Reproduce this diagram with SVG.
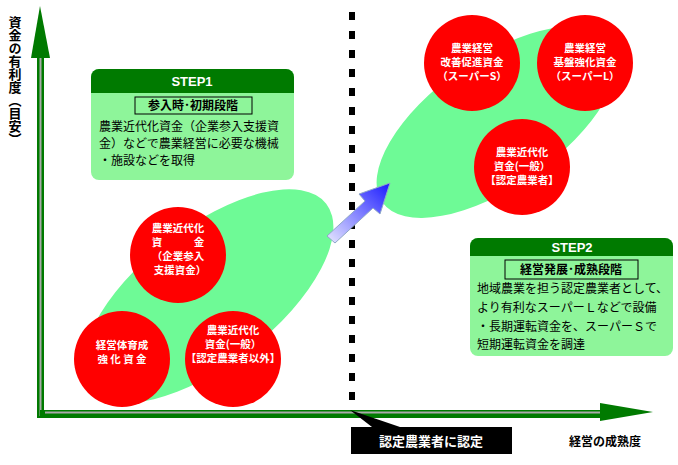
<svg xmlns="http://www.w3.org/2000/svg" width="678" height="465" viewBox="0 0 678 465">
<defs>
<linearGradient id="bg" x1="0" y1="1" x2="1" y2="0"><stop offset="0" stop-color="#e8e8ff"/><stop offset="1" stop-color="#1a1aff"/></linearGradient>
<style>
text{font-family:"Noto Sans CJK JP","Liberation Sans",sans-serif}
.c{fill:#f00}
.ct{fill:#fff;font-size:10.5px;font-weight:bold;text-anchor:middle}
.body{font-size:12px;fill:#000}
.hd{fill:#fff;font-size:13px;font-weight:bold;text-anchor:middle;font-family:"Liberation Sans",sans-serif}
.sub{font-size:12px;font-weight:bold;text-anchor:middle}
.ell{fill:#6efa96}
</style>
</defs>
<rect width="678" height="465" fill="#fff"/>
<g id="blobs">
<ellipse class="ell" cx="208" cy="296" rx="150" ry="68" transform="rotate(-38 208 296)"/>
<ellipse class="ell" cx="497" cy="122" rx="140" ry="64" transform="rotate(-35 497 122)"/>
</g>
<g id="connectors">
<rect x="37" y="56" width="7" height="362" fill="#007a00"/>
<rect x="39.5" y="58" width="2" height="358" fill="#aaa"/>
<polygon points="40,6 31,58 50,58" fill="#007a00"/>
<rect x="40" y="410" width="562" height="8" fill="#007a00"/>
<rect x="45" y="411.5" width="555" height="2" fill="#aaa"/>
<polygon points="653,412 600,403 600,421" fill="#007a00"/>
<g fill="#000">
<rect x="349" y="12" width="6" height="8"/><rect x="349" y="31" width="6" height="8"/><rect x="349" y="50" width="6" height="8"/><rect x="349" y="69" width="6" height="8"/><rect x="349" y="88" width="6" height="8"/><rect x="349" y="107" width="6" height="8"/><rect x="349" y="126" width="6" height="8"/><rect x="349" y="145" width="6" height="8"/><rect x="349" y="164" width="6" height="8"/><rect x="349" y="183" width="6" height="8"/><rect x="349" y="202" width="6" height="8"/><rect x="349" y="221" width="6" height="8"/><rect x="349" y="240" width="6" height="8"/><rect x="349" y="259" width="6" height="8"/><rect x="349" y="278" width="6" height="8"/><rect x="349" y="297" width="6" height="8"/><rect x="349" y="316" width="6" height="8"/><rect x="349" y="335" width="6" height="8"/><rect x="349" y="354" width="6" height="8"/><rect x="349" y="373" width="6" height="8"/><rect x="349" y="392" width="6" height="8"/>
</g>
<polygon points="327,236 365,201 359,194 390,183 380,214 373,208 335,243" fill="url(#bg)" stroke="#8fa8c8" stroke-width="1"/>
</g>
<g id="yaxis-label"><text x="15" y="16" font-size="13" font-weight="bold" style="writing-mode:vertical-rl;glyph-orientation-vertical:0">資金の有利度（目安）</text></g>
<g id="step1">
<rect x="91" y="69" width="203" height="111" rx="8" fill="#8ef59a"/>
<path d="M91,93 V77 a8,8 0 0 1 8,-8 H286 a8,8 0 0 1 8,8 V93 Z" fill="#007a00"/>
<text class="hd" x="192" y="86">STEP1</text>
<rect x="135" y="97" width="117" height="17" fill="none" stroke="#000" stroke-width="1"/>
<text class="sub" x="193" y="110">参入時･初期段階</text>
<text class="body" x="99" y="131">農業近代化資金（企業参入支援資</text>
<text class="body" x="99" y="148">金）などで農業経営に必要な機械</text>
<text class="body" x="99" y="165">・施設などを取得</text>
</g>
<g id="step2">
<rect x="470" y="238" width="203" height="118" rx="8" fill="#8ef59a"/>
<path d="M470,256 V246 a8,8 0 0 1 8,-8 H665 a8,8 0 0 1 8,8 V256 Z" fill="#007a00"/>
<text class="hd" x="572" y="252">STEP2</text>
<rect x="505" y="260" width="133" height="19" fill="none" stroke="#000" stroke-width="1"/>
<text class="sub" x="571" y="274">経営発展･成熟段階</text>
<text class="body" x="477" y="293">地域農業を担う認定農業者として、</text>
<text class="body" x="477" y="312">より有利なスーパーＬなどで設備</text>
<text class="body" x="477" y="331">・長期運転資金を、スーパーＳで</text>
<text class="body" x="477" y="349">短期運転資金を調達</text>
</g>
<g id="n1"><circle class="c" cx="178" cy="255" r="48"/>
<text class="ct" x="178" y="232">農業近代化</text><text class="ct" x="178" y="246">資　　　金</text><text class="ct" x="178" y="260">（企業参入</text><text class="ct" x="180" y="274">支援資金）</text></g>
<g id="n2"><circle class="c" cx="122" cy="359" r="48"/>
<text class="ct" x="122" y="349">経営体育成</text><text class="ct" x="122" y="363">強 化 資 金</text></g>
<g id="n3"><circle class="c" cx="233" cy="359" r="48"/>
<text class="ct" x="233" y="334">農業近代化</text><text class="ct" x="233" y="348">資金(一般）</text><text class="ct" x="233" y="362" font-size="9.5">【認定農業者以外】</text></g>
<g id="n4"><circle class="c" cx="472" cy="63" r="48"/>
<text class="ct" x="472" y="52">農業経営</text><text class="ct" x="472" y="66">改善促進資金</text><text class="ct" x="472" y="80">（スーパーS）</text></g>
<g id="n5"><circle class="c" cx="585" cy="63" r="48"/>
<text class="ct" x="585" y="52">農業経営</text><text class="ct" x="585" y="66">基盤強化資金</text><text class="ct" x="585" y="80">（スーパーL）</text></g>
<g id="n6"><circle class="c" cx="522" cy="167" r="48"/>
<text class="ct" x="522" y="156">農業近代化</text><text class="ct" x="522" y="170">資金(一般）</text><text class="ct" x="522" y="184" font-size="9.5">【認定農業者】</text></g>
<g id="cert">
<polygon points="350,410 372,427 400,427" fill="#000"/>
<rect x="351" y="427" width="161" height="27" fill="#000"/>
<text x="431" y="446" fill="#fff" font-size="13" font-weight="bold" text-anchor="middle">認定農業者に認定</text>
</g>
<g id="xaxis-label"><text x="605" y="446" font-size="12" font-weight="bold" text-anchor="middle">経営の成熟度</text></g>
</svg>
